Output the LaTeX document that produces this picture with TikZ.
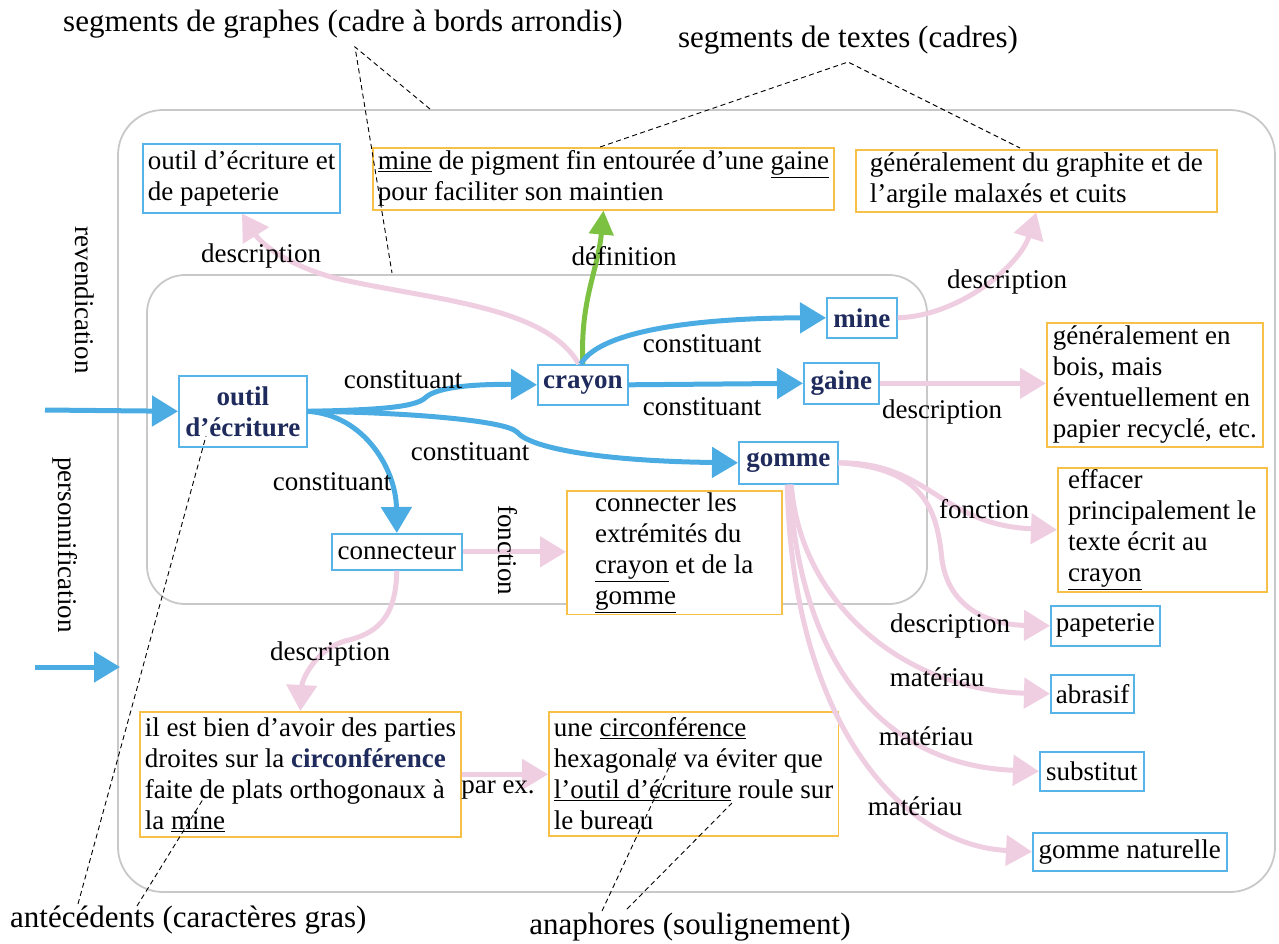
\documentclass[tikz,border=0pt]{standalone}
\usepackage{fontspec}
\setmainfont{Liberation Serif}
\usetikzlibrary{arrows.meta}
\definecolor{bluA}{RGB}{74,172,226}
\definecolor{bluB}{RGB}{86,180,232}
\definecolor{orA}{RGB}{247,192,72}
\definecolor{pinkA}{RGB}{239,206,226}
\definecolor{grnA}{RGB}{124,193,66}
\definecolor{navyA}{RGB}{31,43,92}
\definecolor{frameA}{RGB}{200,200,200}
\newcommand{\nb}[1]{\textbf{\color{navyA}#1}}
\begin{document}
\begin{tikzpicture}[x=1pt,y=-1pt,
 body/.style={font=\fontsize{27}{31}\selectfont},
 gbox/.style={body, draw=bluB, line width=1.6pt, fill=white, anchor=north west, inner xsep=5pt, inner ysep=2pt, align=left},
 tbox/.style={gbox, draw=orA},
 lbl/.style={body, inner sep=0pt},
 ttl/.style={font=\fontsize{31}{36}\selectfont, inner sep=0pt},
 frm/.style={draw=frameA, line width=1.8pt},
 barr/.style={draw=bluA, line width=5pt, -{Triangle[length=26pt,width=30pt]}},
 parr/.style={draw=pinkA, line width=5pt, -{Triangle[length=26pt,width=30pt]}},
 garr/.style={draw=grnA, line width=5pt, -{Triangle[length=24pt,width=24pt]}},
 dsh/.style={draw=black, line width=0.9pt, dash pattern=on 5pt off 3.5pt},
]
\useasboundingbox (0,0) rectangle (1279,943);
% frames
\draw[frm, rounded corners=45pt] (118,110) rectangle (1275,892);
\draw[frm, rounded corners=38pt] (147,275) rectangle (927,604);

% boxes
\node[gbox, minimum width=196pt, minimum height=69pt] (d1) at (142,143) {outil d’écriture et\\de papeterie};
\node[tbox, minimum width=460pt, minimum height=62pt] (d2) at (372,147) {\underline{mine} de pigment fin entourée d’une \underline{gaine}\\pour faciliter son maintien};
\node[tbox, minimum width=361pt, minimum height=62pt] (d3) at (855,149) {généralement du graphite et de\\l’argile malaxés et cuits};
\node[gbox, minimum width=70pt, minimum height=40pt, align=center] (mine) at (826,297) {\nb{mine}};
\node[gbox, minimum width=90pt, minimum height=40pt, align=center] (crayon) at (537,364) {\nb{crayon}};
\node[gbox, minimum width=75pt, minimum height=41pt, align=center] (gaine) at (803,362) {\nb{gaine}};
\node[gbox, minimum width=128pt, minimum height=71pt, align=center] (outil) at (178,375) {\nb{outil}\\\nb{d’écriture}};
\node[gbox, minimum width=99pt, minimum height=42pt, align=center] (gomme) at (738,441) {\nb{gomme}};
\node[gbox, minimum width=130pt, minimum height=36pt, align=center] (conn) at (331,533) {connecteur};
\node[tbox, minimum width=215pt, minimum height=123pt] (d10) at (566,490) {connecter les\\extrémités du\\\underline{crayon} et de la\\\underline{gomme}};
\node[tbox, minimum width=216pt, minimum height=124pt] (d11) at (1046,322) {généralement en\\bois, mais\\éventuellement en\\papier recyclé, etc.};
\node[tbox, minimum width=209pt, minimum height=124pt] (d12) at (1057,467) {effacer\\principalement le\\texte écrit au\\\underline{crayon}};
\node[gbox, minimum width=84pt, minimum height=40pt, align=center] (pap) at (1050,605) {papeterie};
\node[gbox, minimum width=82pt, minimum height=38pt, align=center] (abr) at (1050,674) {abrasif};
\node[gbox, minimum width=104pt, minimum height=39pt, align=center] (sub) at (1039,751) {substitut};
\node[gbox, minimum width=194pt, minimum height=38pt, align=center] (gnat) at (1032,832) {gomme naturelle};
\node[tbox, minimum width=320pt, minimum height=125pt] (d17) at (139,711) {il est bien d’avoir des parties\\droites sur la \nb{circonférence}\\faite de plats orthogonaux à\\la \underline{mine}};
\node[tbox, minimum width=286pt, minimum height=124pt] (d18) at (548,711) {une \underline{circonférence}\\hexagonale va éviter que\\\underline{l’outil d’écriture} roule sur\\le bureau};

% titles
\node[ttl] (tg) at (343,24) {segments de graphes (cadre à bords arrondis)};
\node[ttl] (tt) at (848,40) {segments de textes (cadres)};
\node[ttl, anchor=west] (ta) at (10,920) {antécédents (caractères gras)};
\node[ttl] (tn) at (690,927) {anaphores (soulignement)};
\node[lbl, rotate=-90] (rev) at (85,300) {revendication};
\node[lbl, rotate=-90] (pers) at (65,545) {personnification};

% coordinates for free ends
\coordinate (inA) at (45,410);
\coordinate (inB) at (35,667);
\coordinate (inBend) at (120,667);

% pink arrows
\draw[parr] ([xshift=-4pt]crayon.north) .. controls (545,305) and (430,300) .. (335,278) .. controls (290,266) and (262,245) .. ([xshift=100pt]d1.south west);
\draw[parr] (mine.east) .. controls (960,316) and (1020,265) .. (d3.south);
\draw[parr] (gaine.east) -- (gaine.east -| d11.west);
\draw[parr] (conn.east) -- (conn.east -| d10.west);
\draw[parr] (conn.south) .. controls (396,620) and (375,634) .. (345,641) .. controls (315,650) and (302,680) .. (d17.north);
\draw[parr] (d17.east) -- (d17.east -| d18.west);
\draw[parr] (gomme.east) .. controls (930,462) and (940,525) .. (d12.west);
\draw[parr] (gomme.east) .. controls (925,468) and (937,510) .. (942,560) .. controls (950,615) and (1000,625) .. (pap.west);
\draw[parr] ([xshift=3pt]gomme.south) .. controls (800,600) and (900,690) .. (abr.west);
\draw[parr] ([xshift=1pt]gomme.south) .. controls (800,660) and (880,765) .. (sub.west);
\draw[parr] ([xshift=-1pt]gomme.south) .. controls (792,720) and (900,845) .. (gnat.west);

% green
\draw[garr] (crayon.north) .. controls (580,300) and (598,270) .. (d2.south);

% blue arrows
\draw[barr] (inA) -- (outil.west);
\draw[barr] (inB) -- (inBend);
\draw[barr] (outil.east) .. controls (380,410) and (415,407) .. (425,398) .. controls (437,386) and (480,384) .. (crayon.west);
\draw[barr] (outil.east) .. controls (400,412) and (505,420) .. (517,432) .. controls (530,448) and (600,461) .. (gomme.west);
\draw[barr] (outil.east) .. controls (365,415) and (396,470) .. (conn.north);
\draw[barr] ([xshift=-2pt]crayon.north) .. controls (600,330) and (700,318) .. (mine.west);
\draw[barr] (crayon.east) -- (gaine.west);

% labels
\node[lbl] at (261,256) {description};
\node[lbl] at (624,256) {définition};
\node[lbl] at (1007,282) {description};
\node[lbl] at (403,380) {constituant};
\node[lbl] at (702,344) {constituant};
\node[lbl] at (702,407) {constituant};
\node[lbl] at (942,412) {description};
\node[lbl] at (470,452) {constituant};
\node[lbl] at (332,482) {constituant};
\node[lbl, rotate=-90] at (508,550) {fonction};
\node[lbl] at (984,509) {fonction};
\node[lbl] at (950,626) {description};
\node[lbl] at (937,677) {matériau};
\node[lbl] at (926,736) {matériau};
\node[lbl] at (915,806) {matériau};
\node[lbl] at (330,654) {description};
\node[lbl] at (498,790) {par ex.};

% dashed pointers
\coordinate (gA) at (355,47);
\coordinate (gB) at (430,109);
\coordinate (gC) at (392,273);
\draw[dsh] (gB) -- (gA) -- (gC);
\coordinate (tA) at (848,62);
\coordinate (tB) at (600,147);
\coordinate (tC) at (1020,148);
\draw[dsh] (tB) -- (tA) -- (tC);
\coordinate (aA) at (78,904);
\coordinate (aB) at (206,436);
\coordinate (aC) at (137,906);
\coordinate (aD) at (205,796);
\draw[dsh] (aA) -- (aB);
\draw[dsh] (aC) -- (aD);
\coordinate (nA) at (602,911);
\coordinate (nB) at (677,750);
\coordinate (nC) at (627,909);
\coordinate (nD) at (732,803);
\draw[dsh] (nA) -- (nB);
\draw[dsh] (nC) -- (nD);
\end{tikzpicture}
\end{document}
